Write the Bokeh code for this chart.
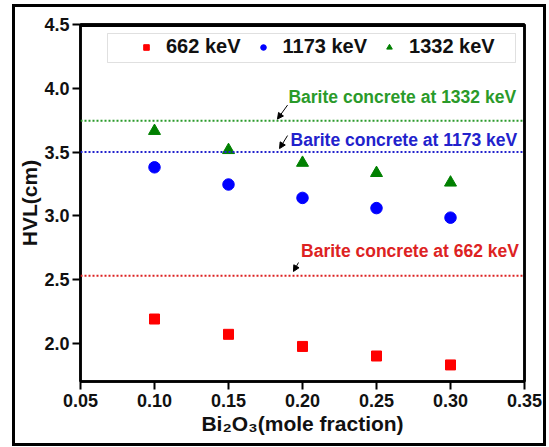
from bokeh.plotting import figure
from bokeh.layouts import column
from bokeh.models import (Span, Label, Arrow, NormalHead, Legend, LegendItem,
                          BoxAnnotation, FixedTicker, NumeralTickFormatter, Range1d,
                          LinearAxis)
from bokeh.embed import file_html
from bokeh.resources import INLINE

# ---- data ----
bi2o3 = [0.10, 0.15, 0.20, 0.25, 0.30]
hvl_662 = [2.19, 2.07, 1.975, 1.90, 1.83]
hvl_1173 = [3.38, 3.245, 3.14, 3.06, 2.985]
hvl_1332 = [3.665, 3.515, 3.415, 3.335, 3.26]
barite_662 = 2.53
barite_1173 = 3.50
barite_1332 = 3.745
series_labels = ["662 keV", "1173 keV", "1332 keV"]
barite_labels = ["Barite concrete at 662 keV", "Barite concrete at 1173 keV",
                 "Barite concrete at 1332 keV"]
x_ticks = [0.05, 0.10, 0.15, 0.20, 0.25, 0.30, 0.35]
y_ticks = [2.0, 2.5, 3.0, 3.5, 4.0, 4.5]
x_min, x_max = 0.05, 0.35
y_min, y_max = 1.70, 4.5

FONT = "Liberation Sans"
RED, BLUE, GREEN = "#ff0000", "#0000ff", "#008000"
LRED, LBLUE, LGREEN = "#dd2222", "#2222cc", "#2a9a2a"

p = figure(width=528, height=436, output_backend="svg", toolbar_location=None,
           x_range=Range1d(x_min, x_max), y_range=Range1d(y_min, y_max),
           min_border_left=65, min_border_right=19, min_border_top=17,
           min_border_bottom=62)
p.grid.visible = False
p.outline_line_color = "black"
p.outline_line_width = 2.5
p.background_fill_color = "white"
p.border_fill_color = "white"

for ax in (p.xaxis[0], p.yaxis[0]):
    ax.axis_line_width = 2.5
    ax.major_tick_line_width = 2
    ax.major_tick_out = 8
    ax.major_tick_in = 0
    ax.minor_tick_out = 0
    ax.minor_tick_in = 0
    ax.major_label_text_font = FONT
    ax.major_label_text_font_style = "bold"
    ax.major_label_text_font_size = "18px"
    ax.major_label_text_color = "#111111"
    ax.axis_label_text_font = FONT
    ax.axis_label_text_font_style = "bold"
    ax.axis_label_text_color = "#111111"

p.xaxis.axis_label_text_font_size = "21px"
p.yaxis.axis_label_text_font_size = "21px"
p.xaxis.ticker = FixedTicker(ticks=x_ticks)
p.yaxis.ticker = FixedTicker(ticks=y_ticks)
p.xaxis.formatter = NumeralTickFormatter(format="0.00")
p.yaxis.formatter = NumeralTickFormatter(format="0.0")
p.xaxis.major_label_standoff = 4
p.yaxis.major_label_standoff = 3
p.xaxis.axis_label = "Bi\u2082O\u2083(mole fraction)"
p.yaxis.axis_label = "HVL(cm)"
p.xaxis.axis_label_standoff = 2
p.yaxis.axis_label_standoff = 0

# closing top and right frame lines
for loc in ("above", "right"):
    a = LinearAxis(axis_line_width=2.5, axis_line_color="black",
                   major_tick_out=0, major_tick_in=0,
                   minor_tick_out=0, minor_tick_in=0,
                   major_label_text_font_size="0px", major_label_standoff=0,
                   ticker=FixedTicker(ticks=[]))
    p.add_layout(a, loc)
# top frame line as a glyph along the upper range limit
p.segment(x0=[x_min], y0=[y_max], x1=[x_max], y1=[y_max],
          line_color="black", line_width=5)

# reference lines
for val, col in ((barite_1332, LGREEN), (barite_1173, LBLUE), (barite_662, LRED)):
    p.add_layout(Span(location=val, dimension="width", line_color=col,
                      line_width=2, line_dash="2 2"))

r1 = p.scatter(bi2o3, hvl_662, marker="square", size=10, color=RED)
r2 = p.scatter(bi2o3, hvl_1173, marker="circle", size=11.5, color=BLUE)
r3 = p.scatter(bi2o3, hvl_1332, marker="triangle", size=12, color=GREEN)

# annotations: text + arrow pointing to each reference line
ann = [
    (barite_labels[2], LGREEN, barite_1332, 0.1905, 3.935, 0.1899, 0.123, 0.1831, 0.013),
    (barite_labels[1], LBLUE, barite_1173, 0.1919, 3.598, 0.1899, 0.129, 0.1845, 0.027),
    (barite_labels[0], LRED, barite_662, 0.1990, 2.727, 0.1973, 0.103, 0.1939, 0.033),
]
for txt, col, val, tx, ty, ax0, dy0, ax1, dy1 in ann:
    p.add_layout(Label(x=tx, y=ty, text=txt, text_color=col, text_font=FONT,
                       text_font_style="bold", text_font_size="17.5px",
                       text_baseline="middle", text_align="left"))
    p.add_layout(Arrow(x_start=ax0, y_start=val + dy0, x_end=ax1, y_end=val + dy1,
                       line_color="black", line_width=1,
                       end=NormalHead(size=6, fill_color="black", line_color="black")))

# legend box
p.add_layout(BoxAnnotation(left=92, right=500, top=26, bottom=55,
                           left_units="canvas", right_units="canvas",
                           top_units="canvas", bottom_units="canvas",
                           fill_color="white", fill_alpha=1,
                           line_color="#999999", line_width=1))
legend = Legend(items=[LegendItem(label=series_labels[0], renderers=[r1]),
                       LegendItem(label=series_labels[1], renderers=[r2]),
                       LegendItem(label=series_labels[2], renderers=[r3])],
                orientation="horizontal", location=(55, 319),
                label_text_font=FONT, label_text_font_style="bold",
                label_text_font_size="20px", label_text_color="#111111",
                glyph_width=14, glyph_height=14, label_standoff=13, spacing=15,
                padding=4, border_line_alpha=0, background_fill_alpha=0)
p.add_layout(legend, "center")

layout = column(p, margin=(4, 0, 0, 12),
                styles={"border": "3px solid black", "background-color": "white"})

open("out.html", "w").write(file_html(layout, INLINE))
